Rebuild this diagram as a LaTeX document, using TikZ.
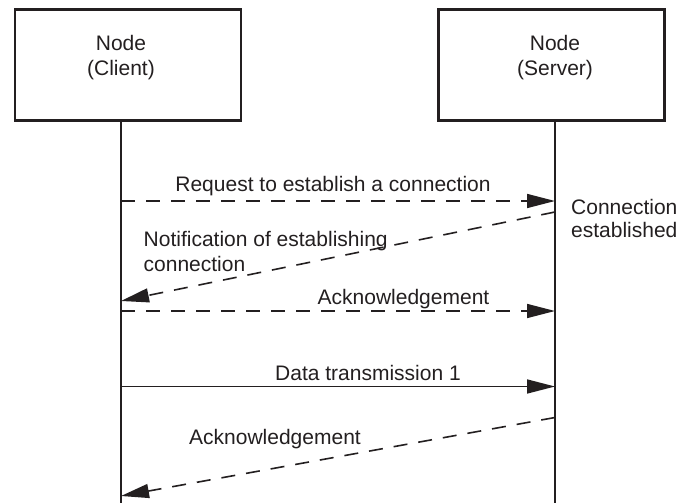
\documentclass[tikz,border=0pt]{standalone}
\usepackage{fontspec}
\setmainfont{Liberation Sans}
\usetikzlibrary{arrows.meta}
\definecolor{ink}{HTML}{231F20}
\begin{document}
\begin{tikzpicture}[x=1pt,y=-1pt,
  box/.style={draw=ink, line width=2.4pt, minimum width=226pt, minimum height=111pt, inner sep=0pt},
  lbl/.style={font=\fontsize{21}{25}\selectfont, inner sep=0pt, text=ink},
  life/.style={draw=ink, line width=1.6pt},
  msg/.style={draw=ink, line width=1.6pt, -{Triangle[length=28pt,width=14pt]}},
  dmsg/.style={msg, dash pattern=on 14pt off 11pt},
]
\useasboundingbox (0,0) rectangle (681,503);

% boxes
\node[box] (client) at (128,65.2) {};
\node[box] (server) at (551.5,65.2) {};
\node[lbl, anchor=north, align=center] (clienttxt) at (121,35) {Node\\(Client)};
\node[lbl, anchor=north, align=center] (servertxt) at (555,35) {Node\\(Server)};

% lifelines
\coordinate (ctop) at (121,120.7);
\coordinate (cbot) at (121,503);
\coordinate (stop) at (555,120.7);
\coordinate (sbot) at (555,503);
\draw[life] (ctop) -- (cbot);
\draw[life] (stop) -- (sbot);

% message points
\coordinate (c1) at (121,201);   \coordinate (s1) at (555,201);
\coordinate (s2) at (555,212);   \coordinate (c2) at (121,301);
\coordinate (c3) at (121,311);   \coordinate (s3) at (555,311);
\coordinate (c4) at (121,386.5); \coordinate (s4) at (555,386.5);
\coordinate (s5) at (555,417.5); \coordinate (c5) at (121,496);

\draw[dmsg] (c1) -- (s1);
\draw[dmsg] (s2) -- (c2);
\draw[dmsg] (c3) -- (s3);
\draw[msg]  (c4) -- (s4);
\draw[dmsg] (s5) -- (c5);

% labels
\node[lbl, anchor=north] (reqtxt) at (333,176.5) {Request to establish a connection};
\node[lbl, anchor=north west, align=left, font=\fontsize{21}{23}\selectfont] (esttxt) at (571,199) {Connection\\established};
\node[lbl, anchor=north west, align=left] (nottxt) at (143.5,231) {Notification of establishing\\connection};
\node[lbl, anchor=north] (acktxt1) at (403.5,289) {Acknowledgement};
\node[lbl, anchor=north] (datatxt) at (368,365) {Data transmission 1};
\node[lbl, anchor=north] (acktxt2) at (275,429) {Acknowledgement};
\end{tikzpicture}
\end{document}
